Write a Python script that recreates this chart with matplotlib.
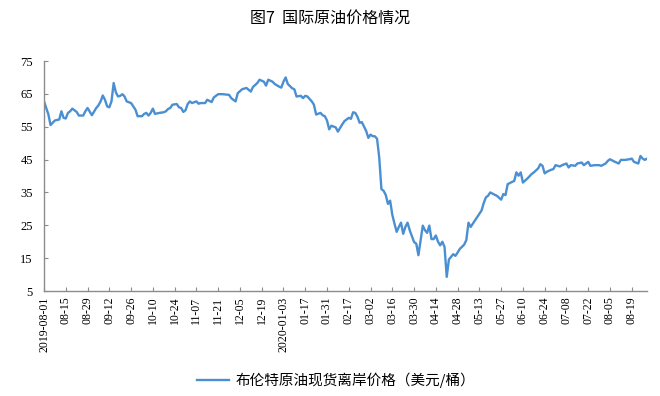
import matplotlib
matplotlib.use("Agg")
import matplotlib.pyplot as plt

# trading-day index (0 = 2019-08-01) and Brent spot price
day_idx = [
    0, 2, 3, 5, 7, 8, 9, 10, 11, 12, 13, 15, 16, 18, 19, 20, 22, 24, 25, 26,
    27, 28, 29, 30, 31, 32, 33, 34, 35, 36, 37, 38, 40, 41, 42, 43, 45, 46, 47, 48,
    49, 50, 51, 53, 55, 56, 57, 58, 59, 61, 62, 63, 64, 65, 66, 67, 68, 70, 71, 72,
    74, 75, 77, 78, 80, 82, 85, 86, 88, 89, 91, 93, 95, 96, 98, 99, 101, 102, 103, 105,
    106, 108, 109, 110, 111, 112, 114, 115, 116, 118, 119, 120, 121, 123, 124, 125, 127, 128, 129, 130,
    131, 132, 134, 135, 137, 138, 140, 141, 142, 143, 144, 145, 146, 148, 149, 150, 151, 152, 153, 154,
    155, 156, 157, 158, 159, 160, 161, 162, 163, 164, 165, 166, 167, 168, 170, 171, 172, 173, 174, 175,
    176, 177, 178, 179, 180, 181, 182, 183, 184, 185, 186, 187, 188, 189, 190, 191, 193, 194, 195, 196,
    197, 199, 201, 202, 203, 204, 205, 207, 208, 210, 211, 212, 213, 215, 216, 217, 218, 219, 220, 222,
    224, 225, 227, 228, 229, 230, 231, 232, 233, 234, 235, 237, 238, 240, 241, 242, 244, 245, 247, 248,
    250, 251, 253, 255, 256, 258, 259, 260, 262, 264, 265, 267, 269, 270, 271, 273, 274, 275, 276, 277,
]
price = [
    62.7, 58.8, 55.5, 56.9, 57.2, 59.7, 57.7, 57.5, 59.2, 59.7, 60.5, 59.5, 58.4, 58.4, 59.7, 60.7, 58.5, 60.7, 61.5, 62.7,
    64.5, 63.2, 61.2, 60.9, 62.7, 68.3, 65.5, 64.2, 64.4, 64.9, 64.2, 62.7, 62.2, 61.2, 60.2, 58.2, 58.2, 58.9, 59.2, 58.4,
    59.2, 60.5, 58.9, 59.2, 59.4, 59.7, 60.4, 60.7, 61.7, 61.9, 60.9, 60.7, 59.5, 60.0, 61.9, 62.7, 62.2, 62.7, 62.0, 62.2,
    62.2, 63.2, 62.5, 63.9, 64.9, 64.9, 64.7, 63.7, 62.7, 65.2, 66.4, 66.8, 65.7, 67.1, 68.3, 69.3, 68.7, 67.5, 69.3, 68.7,
    68.0, 67.2, 66.9, 68.7, 70.0, 68.0, 66.7, 66.4, 64.2, 64.4, 63.7, 64.4, 64.2, 62.7, 61.7, 58.7, 59.2, 58.5, 58.2, 56.9,
    54.2, 55.3, 54.8, 53.5, 55.7, 56.7, 57.7, 57.4, 59.4, 59.2, 58.0, 56.2, 56.4, 53.7, 51.6, 52.6, 52.1, 52.1, 51.3, 45.6,
    36.0, 35.5, 34.2, 31.5, 32.5, 28.2, 25.5, 23.0, 24.5, 25.8, 22.4, 24.5, 25.8, 23.5, 19.9, 19.4, 15.9, 20.3, 24.9, 23.5,
    22.7, 24.9, 20.8, 20.8, 21.9, 20.0, 18.9, 20.0, 18.4, 9.3, 14.6, 15.4, 16.2, 15.7, 16.7, 17.8, 19.1, 20.5, 25.8, 24.5,
    25.5, 27.5, 29.5, 31.8, 33.5, 34.0, 35.0, 34.3, 34.0, 32.8, 34.5, 34.2, 37.5, 38.2, 38.5, 41.1, 40.1, 41.1, 38.0, 39.2,
    40.6, 41.1, 42.3, 43.6, 43.1, 40.8, 41.3, 41.6, 41.9, 42.1, 43.3, 42.9, 43.3, 43.8, 42.6, 43.3, 43.1, 43.8, 44.1, 43.3,
    44.3, 43.1, 43.3, 43.3, 43.1, 43.8, 44.6, 45.1, 44.4, 43.8, 44.9, 44.9, 45.1, 45.3, 44.3, 43.8, 46.1, 45.3, 44.9, 45.3,
]

# one label every 10 trading days
tick_labels = [
    "2019-08-01", "08-15", "08-29", "09-12", "09-26", "10-10", "10-24", "11-07",
    "11-21", "12-05", "12-19", "2020-01-03", "01-17", "01-31", "02-17", "03-02",
    "03-16", "03-30", "04-14", "04-28", "05-13", "05-27", "06-10", "06-24",
    "07-08", "07-22", "08-05", "08-19",
]
y_ticks = [5, 15, 25, 35, 45, 55, 65, 75]

title = "图7  国际原油价格情况"
series_name = "布伦特原油现货离岸价格（美元/桶）"

cjk = ["Noto Sans CJK SC", "DejaVu Sans"]
serif = "Liberation Serif"

fig = plt.figure(figsize=(6.6, 3.96), dpi=100)
ax = fig.add_axes([44 / 660, 1 - 291 / 396, (647 - 44) / 660, (291 - 61) / 396])

line, = ax.plot(day_idx, price, color="#4A8FD2", lw=1.7, label=series_name)

ax.set_xlim(0, 277)
ax.set_ylim(5, 75)
ax.set_yticks(y_ticks)
ax.set_yticklabels([str(v) for v in y_ticks], fontfamily=serif, fontsize=9)
ax.set_xticks(range(0, 10 * len(tick_labels), 10))
ax.set_xticklabels(tick_labels, rotation=90, fontfamily=serif, fontsize=8.5)

for s in ["top", "right"]:
    ax.spines[s].set_visible(False)
for s in ["left", "bottom"]:
    ax.spines[s].set_color("#8c8c8c")
    ax.spines[s].set_linewidth(1.0)
ax.tick_params(axis="both", direction="in", length=3, color="#8c8c8c", width=0.8)
ax.tick_params(axis="y", pad=8)
ax.tick_params(axis="x", pad=4)

fig.text(330 / 660, 1 - 18 / 396, title, ha="center", va="center",
         fontsize=11.5, family=cjk, fontweight="medium")

fig.legend(handles=[line], loc="center", bbox_to_anchor=(336 / 660, 1 - 380 / 396),
           frameon=False, handlelength=2.2, handletextpad=0.4,
           prop={"family": cjk, "size": 10.5})

fig.savefig("out.png", dpi=100)
